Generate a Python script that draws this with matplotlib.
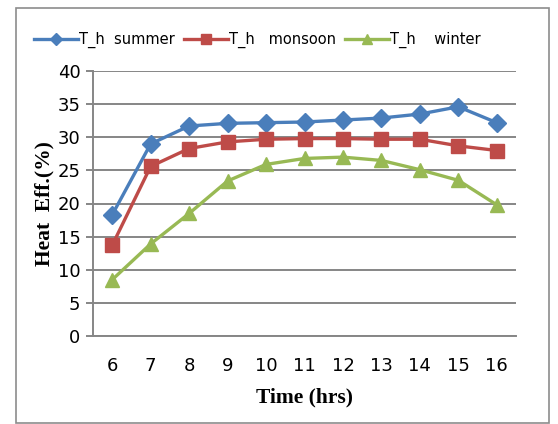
import matplotlib.pyplot as plt
from matplotlib.patches import Rectangle

# hourly heat efficiency readings
hours = [6, 7, 8, 9, 10, 11, 12, 13, 14, 15, 16]
summer = [18.3, 29.0, 31.7, 32.1, 32.2, 32.3, 32.6, 32.9, 33.5, 34.6, 32.2]
monsoon = [13.7, 25.6, 28.3, 29.3, 29.7, 29.8, 29.8, 29.7, 29.7, 28.7, 28.0]
winter = [8.5, 13.9, 18.5, 23.4, 25.9, 26.8, 27.0, 26.5, 25.1, 23.5, 19.8]
labels = ["T_h  summer", "T_h   monsoon", "T_h    winter"]
y_ticks = [0, 5, 10, 15, 20, 25, 30, 35, 40]

fig = plt.figure(figsize=(5.58, 4.24), dpi=100)
ax = fig.add_axes([93 / 558, 1 - 336 / 424, 423 / 558, 265 / 424])

# outer chart frame
fig.patches.append(Rectangle((16 / 558, 1 - 423 / 424), 533 / 558, 415 / 424,
                             transform=fig.transFigure, fill=False,
                             edgecolor="#8c8c8c", linewidth=1.2))

x = range(len(hours))
ax.plot(x, summer, color="#4A7EBB", lw=2.4, marker="D", ms=9, label=labels[0])
ax.plot(x, monsoon, color="#BE4B48", lw=2.4, marker="s", ms=9.5, label=labels[1])
ax.plot(x, winter, color="#98B954", lw=2.4, marker="^", ms=10.5, label=labels[2])

ax.set_xlim(-0.5, len(hours) - 0.5)
ax.set_ylim(0, 40)
ax.set_yticks(y_ticks)
ax.set_xticks(list(x))
ax.set_xticklabels([str(h) for h in hours])
ax.grid(axis="y", color="#868686", lw=1.4)
ax.set_axisbelow(True)
for s in ["top", "right"]:
    ax.spines[s].set_visible(False)
ax.spines["left"].set_color("#868686")
ax.spines["bottom"].set_color("#868686")
ax.spines["left"].set_linewidth(1.4)
ax.spines["bottom"].set_linewidth(1.4)
ax.tick_params(axis="y", length=5, width=1.4, color="#868686", labelsize=13, pad=4)
ax.tick_params(axis="x", length=0, labelsize=13, pad=15)

ax.set_xlabel("Time (hrs)", family="Liberation Serif", fontweight="bold", fontsize=15.5, labelpad=9)
ax.set_ylabel("Heat  Eff.(%)", family="Liberation Serif", fontweight="bold", fontsize=15.5, labelpad=2)

fig.legend(loc="center", bbox_to_anchor=(0.4615, 1 - 40 / 424), ncol=3, frameon=False,
           fontsize=10.5, handlelength=3.0, handletextpad=0.1, columnspacing=0.6,
           markerscale=0.7)

fig.savefig("out.png", dpi=100)
